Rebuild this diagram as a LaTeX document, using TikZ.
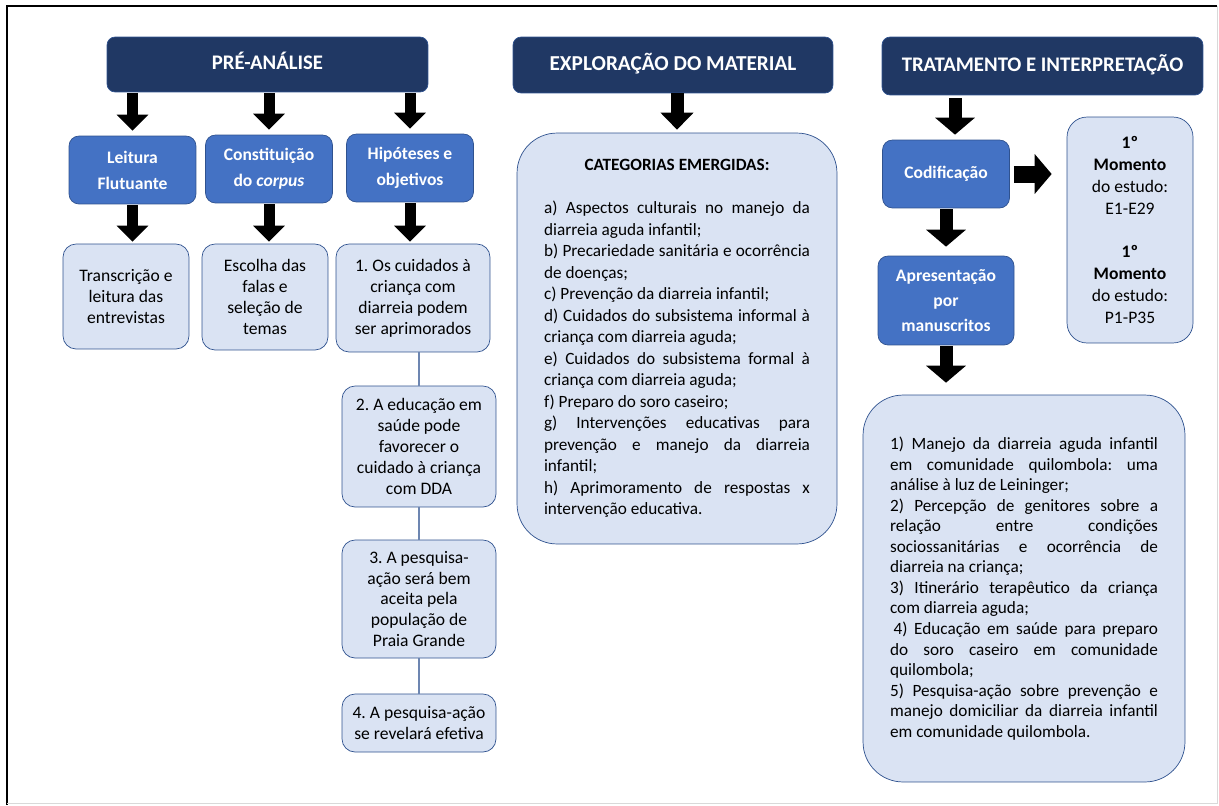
\documentclass[tikz,border=0pt]{standalone}
\usepackage{fontspec}
\setmainfont{Carlito}
\usetikzlibrary{positioning,arrows.meta,calc}
\frenchspacing

\definecolor{navy}{HTML}{203864}
\definecolor{stageblue}{HTML}{4472C4}
\definecolor{paleblue}{HTML}{DAE3F3}
\definecolor{edgeblue}{HTML}{2F528F}

\tikzset{
  phasebox/.style={draw=edgeblue, fill=navy, rounded corners=0.16cm, text=white,
    font=\fontsize{11.8}{14}\selectfont\bfseries, inner sep=0pt,
    minimum width=6.42cm, minimum height=1.1cm, text height=1.5ex, text depth=0.25ex},
  stagebox/.style={draw=edgeblue, fill=stageblue, rounded corners=0.2cm, text=white,
    font=\fontsize{10}{14.7}\selectfont\bfseries, align=center, inner sep=0pt,
    minimum width=2.54cm, minimum height=1.36cm},
  ideabox/.style={draw=edgeblue, fill=paleblue, rounded corners=0.26cm,
    font=\fontsize{10}{11.9}\selectfont, align=center, inner sep=0pt,
    minimum width=2.52cm},
  listbox/.style={ideabox, text width=5.36cm, align=justify,
    font=\fontsize{9.8}{11.7}\selectfont},
  fatarrow/.style={line width=0.22cm, -{Triangle[width=0.62cm,length=0.32cm]},
    shorten <=0.02cm, shorten >=0.1cm},
  widearrow/.style={fatarrow, line width=0.26cm, -{Triangle[width=0.78cm,length=0.34cm]}},
  hiplink/.style={draw=edgeblue!70, line width=0.8pt}
}

\begin{document}
\begin{tikzpicture}[x=0.02cm, y=-0.02cm]
\useasboundingbox (0,0) rectangle (1219,805);

% frame
\draw[line width=1.5pt] (7,805) -- (7,6) -- (1217,6);
\draw[black!15] (1217,6) -- (1217,803) -- (7,803);

% phases
\node[phasebox] (pre) at (267.5,64.5) {PRÉ-ANÁLISE};
\node[phasebox, minimum width=6.4cm, minimum height=1.12cm, font=\fontsize{12.1}{14}\selectfont\bfseries] (expl) at (673,65) {EXPLORAÇÃO DO MATERIAL};
\node[phasebox, minimum height=1.16cm] (trat) at (1042.5,66) {TRATAMENTO E INTERPRETAÇÃO};

% pre-analise
\node[stagebox] (leit) at (132.5,170) {Leitura\\Flutuante};
\node[stagebox] (corp) at (269,169) {Constituição\\do \textit{corpus}};
\node[stagebox] (hip) at (410,168) {Hipóteses e\\objetivos};

\node[ideabox, minimum height=2.1cm] (transc) at (126,296.5) {Transcrição e\\leitura das\\entrevistas};
\node[ideabox, minimum height=2.12cm] (escol) at (265,297) {Escolha das\\falas e\\seleção de\\temas};
\node[ideabox, minimum width=3.08cm, minimum height=2.16cm] (hipa) at (413,298) {1. Os cuidados à\\criança com\\diarreia podem\\ser aprimorados};
\node[ideabox, minimum width=3.08cm, minimum height=2.42cm] (hipb) at (419,446.5) {2. A educação em\\saúde pode\\favorecer o\\cuidado à criança\\com DDA};
\node[ideabox, minimum width=3.08cm, minimum height=2.36cm] (hipc) at (419,599) {3. A pesquisa-\\ação será bem\\aceita pela\\população de\\Praia Grande};
\node[ideabox, minimum width=3.08cm, minimum height=1.16cm] (hipd) at (419,723) {4. A pesquisa-ação\\se revelará efetiva};

\foreach \stg/\idea in {leit/transc, corp/escol, hip/hipa}{
  \draw[fatarrow] (pre.south -| \stg.north) -- (\stg.north);
  \draw[fatarrow, shorten >=0.04cm] (\stg.south) -- (\stg.south |- \idea.north);
}
\foreach \a/\b in {hipa/hipb, hipb/hipc, hipc/hipd}
  \draw[hiplink] (\b.north |- \a.south) -- (\b.north);

% exploracao
\node[listbox, rounded corners=0.8cm, minimum width=6.4cm, minimum height=8.22cm, text width=5.32cm,
  font=\fontsize{9.8}{12.25}\selectfont] (categ) at (677,338.5) {%
\centerline{\bfseries CATEGORIAS EMERGIDAS:}\par\vspace{12.25pt}
a) Aspectos culturais no manejo da\linebreak diarreia aguda infantil;\par
b) Precariedade sanitária e ocorrência\linebreak de doenças;\par
c) Prevenção da diarreia infantil;\par
d) Cuidados do subsistema informal à\linebreak criança com diarreia aguda;\par
e) Cuidados do subsistema formal à\linebreak criança com diarreia aguda;\par
f) Preparo do soro caseiro;\par
g) Intervenções educativas para\linebreak prevenção e manejo da diarreia\linebreak infantil;\par
h) Aprimoramento de respostas x\linebreak intervenção educativa.};
\draw[fatarrow, line width=0.26cm, -{Triangle[width=0.64cm,length=0.34cm]}, shorten <=0pt, shorten >=0.06cm]
  (categ.north |- expl.south) -- (categ.north);

% tratamento
\node[stagebox] (codif) at (946,174) {Codificação};
\node[stagebox, minimum width=2.72cm, minimum height=1.78cm, font=\fontsize{10}{14.2}\selectfont\bfseries] (apres) at (946,300.5) {Apresentação\\por\\manuscritos};
\node[ideabox, rounded corners=0.4cm, minimum height=4.52cm, font=\fontsize{10}{12.5}\selectfont] (mom) at (1130,230)
  {\textbf{1º}\\\textbf{Momento}\\do estudo:\\E1-E29\\[12.5pt]\textbf{1º}\\\textbf{Momento}\\do estudo:\\P1-P35};
\node[listbox, rounded corners=0.8cm, minimum width=6.44cm, minimum height=7.74cm] (manus) at (1024,588.5) {%
1) Manejo da diarreia aguda infantil\linebreak em comunidade quilombola: uma\linebreak análise à luz de Leininger;\par
2) Percepção de genitores sobre a\linebreak relação entre condições\linebreak sociossanitárias e ocorrência de\linebreak diarreia na criança;\par
3) Itinerário terapêutico da criança\linebreak com diarreia aguda;\par
\hspace*{2pt}4) Educação em saúde para preparo\linebreak do soro caseiro em comunidade\linebreak quilombola;\par
5) Pesquisa-ação sobre prevenção e\linebreak manejo domiciliar da diarreia infantil\linebreak em comunidade quilombola.\par\vspace{0.45cm}};

\draw[widearrow, shorten <=0.06cm] ($(codif.north |- trat.south)+(9,0)$) -- ($(codif.north)+(9,0)$);
\draw[widearrow, shorten >=0.18cm] (codif.south) -- (apres.north);
\draw[widearrow, shorten >=0.24cm] (apres.south) -- (apres.south |- manus.north);
\draw[widearrow, line width=0.34cm, -{Triangle[width=0.78cm,length=0.34cm]}, shorten <=0.08cm, shorten >=0.3cm] (codif.east) -- (codif.east -| mom.west);

\end{tikzpicture}
\end{document}
